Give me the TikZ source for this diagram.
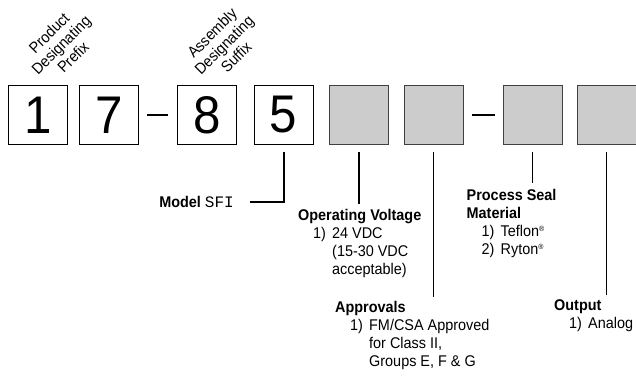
\documentclass[tikz,border=0pt]{standalone}
\usepackage{fontspec}
\setmainfont{Liberation Sans}[FakeStretch=0.93]
\setmonofont{Liberation Mono}
\usepackage{tikz}
\usetikzlibrary{calc}
\newcommand{\opt}[2]{\hspace*{15pt}\makebox[19pt][l]{#1)}#2}
\newcommand{\cnt}[1]{\hspace*{34pt}#1}
\newcommand{\reg}{{\fontsize{7.5}{7.5}\selectfont\raisebox{5pt}{®}}}
\tikzstyle{digitbox} = [draw=black, line width=0.8pt, minimum size=59pt,
inner sep=0pt, font=\fontsize{53}{53}\selectfont]
\tikzstyle{blankbox} = [digitbox, draw=black!75, fill=black!20]
\tikzstyle{leader} = [draw=black, line width=1.8pt]
\tikzstyle{dashbar} = [draw=black, line width=1.8pt]
\tikzstyle{fieldtext} = [anchor=north west, inner sep=0pt, align=left,
font=\fontsize{15.5}{18}\selectfont]
\tikzstyle{slanted} = [rotate=45, align=center, inner sep=0pt,
font=\fontsize{15.5}{17}\selectfont]

\begin{document}
\begin{tikzpicture}[x=1pt, y=-1pt]
    \useasboundingbox (0,0) rectangle (636,377);
    % code boxes
    \node [digitbox] (d1) at (37.9,115) {1};
    \node [digitbox] (d2) at (108.9,115) {7};
    \node [digitbox] (d3) at (207.2,115) {8};
    \node [digitbox] (d4) at (283.7,115) {5};
    \node [blankbox] (d5) at (359.2,115) {};
    \node [blankbox] (d6) at (433.5,115) {};
    \node [blankbox] (d7) at (532.5,115) {};
    \node [blankbox] (d8) at (606.5,115) {};
    \draw [dashbar] ([xshift=8pt]d2.east) -- ([xshift=-9pt]d3.west);
    \draw [dashbar] ([xshift=8.5pt]d6.east) -- ([xshift=-8pt]d7.west);
    % slanted titles
    \node [slanted] (prefix) at (61,45) {Product\\Designating\\Prefix};
    \node [slanted] (suffix) at (224,45) {Assembly\\Designating\\Suffix};
    % field descriptions
    \node [anchor=east, inner sep=0pt, font=\fontsize{15.5}{18}\selectfont]
        (model) at (234,202) {\textbf{Model} {\fontsize{16}{16}\selectfont\ttfamily SFI}};
    \node [fieldtext] (volt) at (298,209.4) {%
        \textbf{Operating Voltage}\\
        \opt{1}{24 VDC}\\
        \cnt{(15-30 VDC}\\
        \cnt{acceptable)}};
    \node [fieldtext] (appr) at (335,301.2) {%
        \textbf{Approvals}\\
        \opt{1}{FM/CSA Approved}\\
        \cnt{for Class II,}\\
        \cnt{Groups E, F \& G}};
    \node [fieldtext] (seal) at (466.5,188.7) {%
        \textbf{Process Seal}\\
        \textbf{Material}\\
        \opt{1}{Teflon\reg}\\
        \opt{2}{Ryton\reg}};
    \node [fieldtext] (outp) at (554,299.7) {%
        \textbf{Output}\\
        \opt{1}{Analog}};
    % leaders
    \draw [leader] ([yshift=-7pt]d4.south) |- ([xshift=16pt]model.east);
    \draw [leader] ([yshift=-7pt]d5.south) -- ([yshift=5pt]d5.south |- volt.north);
    \draw [leader] ([yshift=-7pt]d6.south) -- ([yshift=4pt]d6.south |- appr.north);
    \draw [leader] ([yshift=-7pt]d7.south) -- ([yshift=6pt]d7.south |- seal.north);
    \draw [leader] ([yshift=-7pt]d8.south) -- ([yshift=5pt]d8.south |- outp.north);
\end{tikzpicture}
\end{document}
